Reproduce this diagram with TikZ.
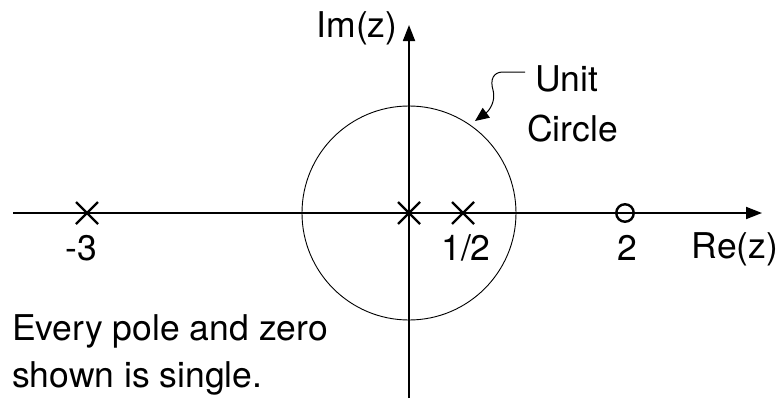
\documentclass[tikz,border=0pt]{standalone}
\usepackage{fontspec}
\setmainfont{TeX Gyre Heros}
\usetikzlibrary{arrows.meta,calc}
\begin{document}
\begin{tikzpicture}[x=1pt,y=-1pt,
  axis/.style={line width=1.8pt,-{Triangle[length=16pt,width=12pt]}},
  lbl/.style={font=\fontsize{35.5}{51}\selectfont,inner sep=0pt,anchor=base},
  polemark/.style={line width=2.4pt},
  zeromark/.style={draw,circle,line width=2.4pt,minimum size=17.5pt,inner sep=0pt},
  ptr/.style={line width=1pt,-{Triangle[length=14pt,width=12pt]}}]
\useasboundingbox (0,0) rectangle (782,399);
\coordinate (O) at (409,213);
\coordinate (xl) at (13,213);
\coordinate (xr) at (762,213);
\coordinate (yb) at (409,398);
\coordinate (yt) at (409,25);
\draw[axis] (xl) -- (xr);
\draw[axis] (yb) -- (yt);
\node[draw,circle,line width=0.9pt,minimum size=214pt,inner sep=0pt] (uc) at (O) {};
% poles
\foreach \n/\x in {p0/409,p1/463,pm/87}{
  \coordinate (\n) at (\x,213);
  \draw[polemark] ($(\n)+(-11,-11)$) -- ($(\n)+(11,11)$);
  \draw[polemark] ($(\n)+(-11,11)$) -- ($(\n)+(11,-11)$);
}
\node[zeromark] (z2) at (625,213) {};
% labels
\node[lbl] (lm3) at (81,260) {-3};
\node[lbl] (lhalf) at (466,260) {1/2};
\node[lbl] (l2) at (627,260) {2};
\node[lbl] (lre) at (735,258) {Re(z)};
\node[lbl] (lim) at (357,37) {Im(z)};
\node[lbl,anchor=base west] (lunit) at (535,91) {Unit};
\node[lbl,anchor=base west] (lcirc) at (527,141) {Circle};
\node[lbl,anchor=base west] (note1) at (12,340) {Every pole and zero};
\node[lbl,anchor=base west] (note2) at (12,387) {shown is single.};
\coordinate (ps) at (525,72);
\draw[ptr] (ps) -- (503,72) .. controls (493,72) and (490,80) .. (493,90) .. controls (496,100) and (490,110) .. (475,121);
\end{tikzpicture}
\end{document}
